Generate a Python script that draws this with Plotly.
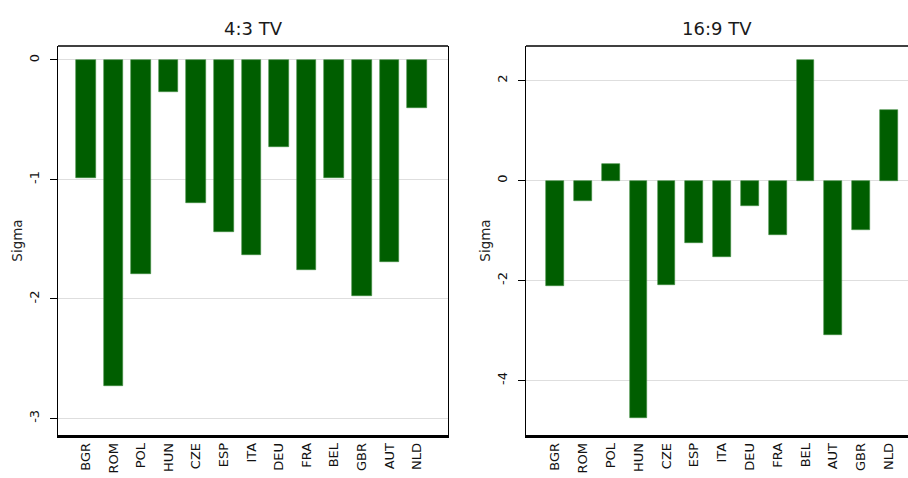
import plotly.graph_objects as go

# Sigma by country, 4:3 TV sets
countries_43 = ["BGR", "ROM", "POL", "HUN", "CZE", "ESP", "ITA", "DEU", "FRA", "BEL", "GBR", "AUT", "NLD"]
sigma_43 = [-0.99, -2.73, -1.79, -0.27, -1.20, -1.44, -1.63, -0.73, -1.76, -0.99, -1.98, -1.69, -0.40]

# Sigma by country, 16:9 TV sets
countries_169 = ["BGR", "ROM", "POL", "HUN", "CZE", "ESP", "ITA", "DEU", "FRA", "BEL", "AUT", "GBR", "NLD"]
sigma_169 = [-2.11, -0.41, 0.34, -4.74, -2.08, -1.24, -1.53, -0.50, -1.08, 2.41, -3.08, -0.99, 1.41]

yticks_43 = [0, -1, -2, -3]
yticks_169 = [2, 0, -2, -4]

BAR = "rgb(0,94,0)"
W, H = 908, 478
FONT = "DejaVu Sans, Verdana, sans-serif"

fig = go.Figure()

fig.add_trace(go.Bar(x=countries_43, y=sigma_43,
                     marker=dict(color=BAR, line=dict(color="rgb(60,140,60)", width=0.6)),
                     width=0.71, xaxis="x", yaxis="y", showlegend=False))
fig.add_trace(go.Bar(x=countries_169, y=sigma_169,
                     marker=dict(color=BAR, line=dict(color="rgb(60,140,60)", width=0.6)),
                     width=0.64, xaxis="x2", yaxis="y2", showlegend=False))

# panel boxes in pixels
L1, R1 = 58, 448
L2, R2 = 526, 908
TOP, BOT = 46, 435


def fx(px):
    return px / W


def fy(py):
    return (H - py) / H


font_xtick = dict(family=FONT, size=13, color="#111111")
font_ytick = dict(family=FONT, size=13, color="#111111")

common_x = dict(type="category", showgrid=False, showline=True, linecolor="black", linewidth=2.5,
                ticks="", tickangle=-90, tickfont=font_xtick, fixedrange=True, zeroline=False)
common_y = dict(showgrid=True, gridcolor="#dedede", gridwidth=1, showline=True, linecolor="black",
                linewidth=1.3, ticks="outside", ticklen=7, tickcolor="black", tickwidth=1.3,
                tickangle=-90, tickfont=font_ytick, ticklabelstandoff=6,
                zeroline=False, fixedrange=True,
                title=dict(text="Sigma", standoff=0,
                           font=dict(family=FONT, size=13.5, color="#222222")))

fig.update_layout(
    width=W, height=H, margin=dict(l=0, r=0, t=0, b=0),
    paper_bgcolor="white", plot_bgcolor="white",
    xaxis=dict(common_x, domain=[fx(L1), fx(R1)], anchor="y", range=[-1.01, 13.12],
               categoryorder="array", categoryarray=countries_43),
    yaxis=dict(common_y, domain=[fy(BOT), fy(TOP)], anchor="x", range=[-3.14, 0.117],
               tickvals=yticks_43, ticktext=[str(v) for v in yticks_43], mirror=True),
    xaxis2=dict(common_x, domain=[fx(L2), 1.0], anchor="y2", range=[-1.05, 12.69],
                categoryorder="array", categoryarray=countries_169),
    yaxis2=dict(common_y, domain=[fy(BOT), fy(TOP)], anchor="x2", range=[-5.09, 2.69],
                tickvals=yticks_169, ticktext=[str(v) for v in yticks_169], mirror=False),
    bargap=0,
)

# top borders of both panels
for x0, x1 in [(L1, R1), (L2, R2)]:
    fig.add_shape(type="line", xref="paper", yref="paper", x0=fx(x0), x1=fx(x1), y0=fy(TOP), y1=fy(TOP),
                  line=dict(color="black", width=1.3))

title_font = dict(family=FONT, size=18, color="#1a1a1a")
fig.add_annotation(text="4:3 TV", x=fx((L1 + R1) / 2), y=fy(28), xref="paper", yref="paper",
                   showarrow=False, font=title_font, xanchor="center", yanchor="middle")
fig.add_annotation(text="16:9 TV", x=fx((L2 + R2) / 2), y=fy(28), xref="paper", yref="paper",
                   showarrow=False, font=title_font, xanchor="center", yanchor="middle")

fig.write_html("out.html")
